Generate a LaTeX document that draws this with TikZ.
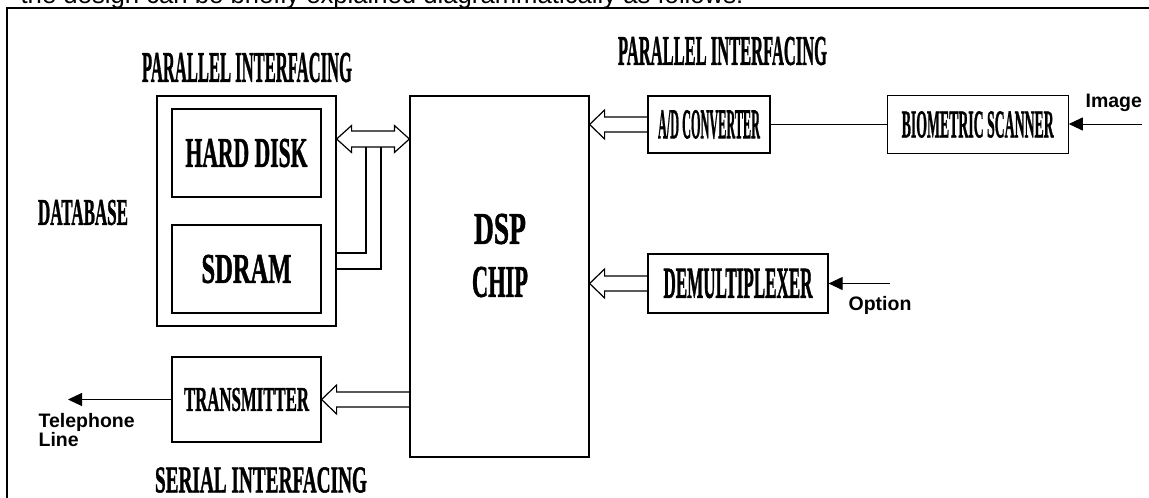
\documentclass[tikz,border=0pt]{standalone}
\usepackage{fontspec}
\setmainfont{Liberation Serif}
\newfontfamily\blockfont[BoldFeatures={FakeBold=1.5}]{Liberation Serif}
\newfontfamily\notefont{Liberation Sans}
\usepackage{graphicx}
\usetikzlibrary{arrows.meta,positioning,calc}
\newcommand{\blocktext}[3]{\resizebox{#1pt}{#2pt}{\blockfont\bfseries #3}}
\newcommand{\fatleft}[2]{\draw[fat] let \p1=#1, \p2=#2 in (\x2,\y2+7.5pt) -- (\x1+15pt,\y2+7.5pt) -- (\x1+15pt,\y2+14.5pt) -- (\x1,\y2) -- (\x1+15pt,\y2-14.5pt) -- (\x1+15pt,\y2-7.5pt) -- (\x2,\y2-7.5pt);}
\begin{document}
\begin{tikzpicture}[x=1pt,y=-1pt,line width=1.2pt,
  b/.style={draw,inner sep=0pt},
  fat/.style={line width=1.2pt,line join=miter},
  tip/.style={line width=1pt,-{Triangle[length=14pt,width=13pt]}},
  note/.style={font=\notefont\bfseries\fontsize{19.5}{17.5}\selectfont,inner sep=0pt}]
  \useasboundingbox (0,0) rectangle (1149,498);
  \node[anchor=base west,inner sep=0pt,font=\notefont\fontsize{25.7}{30}\selectfont] (intro) at (20,3) {the design can be briefly explained diagrammatically as follows:};
  \draw[line width=1.6pt] (7,8) rectangle (1170,520);
  \node[b,minimum width=179pt,minimum height=230pt] (db) at (246.5,211) {};
  \node[b,minimum width=149pt,minimum height=88pt] (hd) at (246.5,153) {\blocktext{122}{28}{HARD DISK}};
  \node[b,minimum width=149pt,minimum height=88pt] (sdram) at (246.5,269) {\blocktext{90}{28}{SDRAM}};
  \node[b,minimum width=179pt,minimum height=361pt] (dsp) at (499.5,276.5) {};
  \node[inner sep=0pt,align=center,font=\fontsize{10}{53}\selectfont] (dsptext) at (500,255.5) {\blocktext{52}{30}{DSP}\\\blocktext{56}{30}{CHIP}};
  \node[b,minimum width=122pt,minimum height=57pt] (ad) at (709,124.5) {\blocktext{102}{28}{A/D CONVERTER}};
  \node[b,minimum width=181pt,minimum height=58pt,right=116pt of ad] (scan) {\blocktext{152}{26}{BIOMETRIC SCANNER}};
  \node[b,minimum width=180pt,minimum height=59pt] (demux) at (738,283.5) {\blocktext{149}{29}{DEMULTIPLEXER}};
  \node[b,minimum width=149pt,minimum height=85pt] (tx) at (246.5,399.5) {\blocktext{125}{23}{TRANSMITTER}};
  \node[inner sep=0pt] (dbname) at (83,212.5) {\blocktext{90}{25}{DATABASE}};
  \node[inner sep=0pt] (parleft) at (247,67.5) {\blocktext{210}{29}{PARALLEL INTERFACING}};
  \node[inner sep=0pt] (parright) at (722.5,51) {\blocktext{209}{28}{PARALLEL INTERFACING}};
  \node[inner sep=0pt] (serial) at (261,480) {\blocktext{212}{25}{SERIAL INTERFACING}};
  \node[note,anchor=base west] (imglbl) at (1085,107) {Image};
  \node[note,anchor=base west] (optlbl) at (848,310) {Option};
  \node[note,anchor=north west,align=left] (tellbl) at (38,413) {Telephone\\Line};
  \coordinate (imgin) at (1142,124);
  \coordinate (optin) at (890,283.5);
  \coordinate (telout) at (68,399.5);
  \coordinate (bus) at (373.5,139);
  \draw[tip] (imgin) -- (imgin -| scan.east);
  \draw[tip] (optin) -- (optin -| demux.east);
  \draw[tip] (tx.west) -- (telout);
  \draw (ad.east) -- (scan.west);
  \draw[fat] let \p1=(db.east |- bus), \p2=(dsp.west |- bus) in (\p1) -- (\x1+15pt,\y1+13.5pt) -- (\x1+15pt,\y1+8pt) -- (\x2-15pt,\y1+8pt) -- (\x2-15pt,\y1+13.5pt) -- (\p2) -- (\x2-15pt,\y1-13.5pt) -- (\x2-15pt,\y1-8pt) -- (\x1+15pt,\y1-8pt) -- (\x1+15pt,\y1-13.5pt) -- cycle;
  \draw (db.east |- sdram) ++(0,-16) -| ([shift={(-7.5,8)}]bus);
  \draw (db.east |- sdram) -| ([shift={(7.5,8)}]bus);
  \fatleft{(dsp.east |- ad)}{(ad.west)}
  \fatleft{(dsp.east |- demux)}{(demux.west)}
  \fatleft{(tx.east)}{(dsp.west |- tx)}
\end{tikzpicture}
\end{document}
